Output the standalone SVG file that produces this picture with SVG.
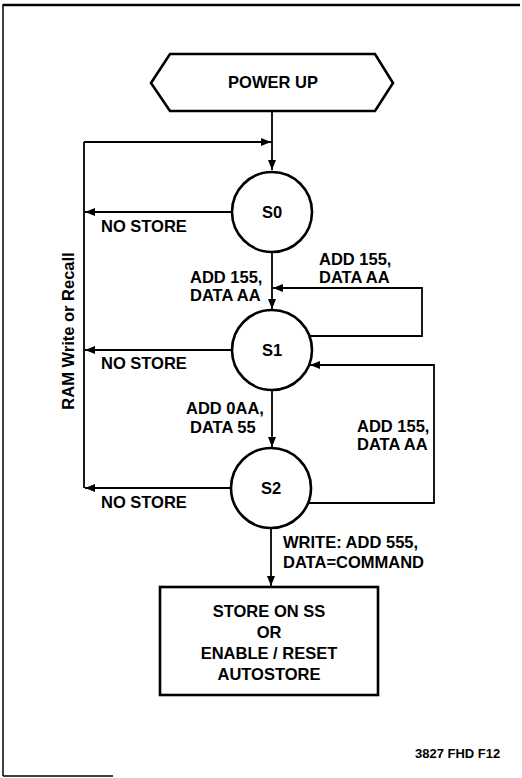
<svg xmlns="http://www.w3.org/2000/svg" width="522" height="778" viewBox="0 0 522 778">
<defs>
<marker id="ah" viewBox="0 0 10 8" refX="10" refY="4" markerWidth="10" markerHeight="8" markerUnits="userSpaceOnUse" orient="auto">
<path d="M0,0 L10,4 L0,8 Z" fill="#000"/>
</marker>
<style>
.t{font-family:"Liberation Sans",Arial,sans-serif;font-weight:bold;font-size:16.5px;fill:#000}
.c{text-anchor:middle}
.n{fill:#fff;stroke:#000;stroke-width:2.6}
.l{fill:none;stroke:#000;stroke-width:1.8}
</style>
</defs>
<rect width="522" height="778" fill="#fff"/>
<g id="frame" fill="none" stroke="#000">
<path d="M3,5 H520" stroke-width="2.5"/>
<path d="M3,4 V776" stroke-width="1.5"/>
<path d="M3,776 H113" stroke-width="1.5"/>
</g>
<g id="connectors">
<path class="l" d="M272,112 V170" marker-end="url(#ah)"/>
<path class="l" d="M84,142 H271" marker-end="url(#ah)"/>
<path class="l" d="M84,142 V488"/>
<path class="l" d="M232,212 H85" marker-end="url(#ah)"/>
<path class="l" d="M232,350 H85" marker-end="url(#ah)"/>
<path class="l" d="M231,488 H85" marker-end="url(#ah)"/>
<path class="l" d="M272,252 V309" marker-end="url(#ah)"/>
<path class="l" d="M309,336 H422 V288 H273" marker-end="url(#ah)"/>
<path class="l" d="M272,390 V447" marker-end="url(#ah)"/>
<path class="l" d="M308,503 H434 V365 H310" marker-end="url(#ah)"/>
<path class="l" d="M271,528 V586" marker-end="url(#ah)"/>
<text class="t" x="101" y="232">NO STORE</text>
<text class="t" x="101" y="369">NO STORE</text>
<text class="t" x="101" y="508">NO STORE</text>
<text class="t" x="190" y="283">ADD 155,</text>
<text class="t" x="190" y="301">DATA AA</text>
<text class="t" x="319" y="265">ADD 155,</text>
<text class="t" x="319" y="283">DATA AA</text>
<text class="t" x="186" y="414">ADD 0AA,</text>
<text class="t" x="190" y="433">DATA 55</text>
<text class="t" x="357" y="432">ADD 155,</text>
<text class="t" x="357" y="450">DATA AA</text>
<text class="t" x="283" y="548">WRITE: ADD 555,</text>
<text class="t" x="283" y="568">DATA=COMMAND</text>
<text class="t c" transform="translate(74,331) rotate(-90)">RAM Write or Recall</text>
</g>
<g id="power-up">
<path class="n" d="M151,83 L170,54 H375 L393,83 L375,111 H170 Z"/>
<text class="t c" x="273" y="88">POWER UP</text>
</g>
<g id="s0">
<circle class="n" cx="272" cy="212" r="40"/>
<text class="t c" x="272" y="218">S0</text>
</g>
<g id="s1">
<circle class="n" cx="272" cy="350" r="40"/>
<text class="t c" x="272" y="356">S1</text>
</g>
<g id="s2">
<circle class="n" cx="271" cy="488" r="40"/>
<text class="t c" x="271" y="494">S2</text>
</g>
<g id="store">
<rect class="n" x="160" y="587" width="218" height="108"/>
<text class="t c" x="269" y="617">STORE ON SS</text>
<text class="t c" x="269" y="638">OR</text>
<text class="t c" x="269" y="659">ENABLE / RESET</text>
<text class="t c" x="269" y="680">AUTOSTORE</text>
</g>
<text class="t" x="415" y="758" style="font-size:13px">3827 FHD F12</text>
</svg>
